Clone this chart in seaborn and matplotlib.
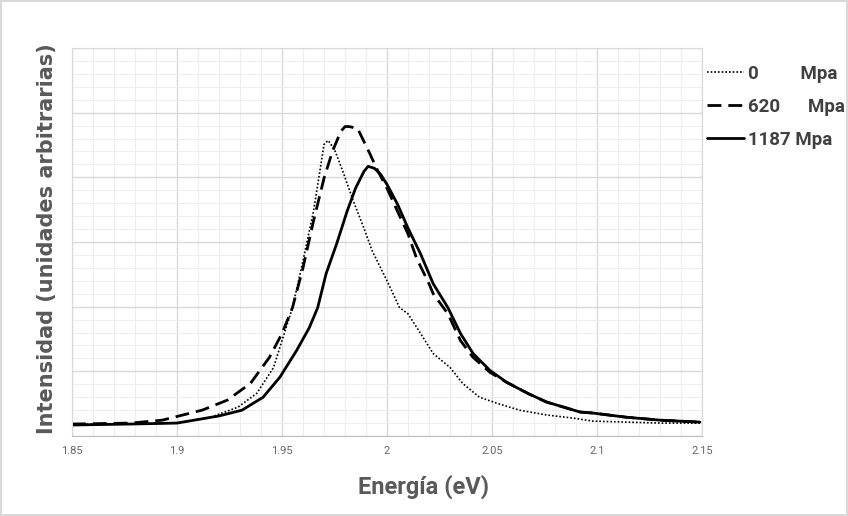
import numpy as np
import pandas as pd
import matplotlib
matplotlib.use("Agg")
import matplotlib.pyplot as plt
from matplotlib.ticker import MultipleLocator, FixedLocator
import seaborn as sns

# values (energy in eV, intensity in arbitrary units)
energy_0 = [1.850, 1.878, 1.900, 1.916, 1.929, 1.938, 1.946, 1.950, 1.955, 1.960,
            1.965, 1.968, 1.970, 1.972, 1.975, 1.979, 1.984, 1.989, 1.993, 2.000,
            2.006, 2.010, 2.016, 2.022, 2.030, 2.036, 2.044, 2.052, 2.063, 2.076,
            2.089, 2.098, 2.114, 2.130, 2.149]
intens_0 = [0.037, 0.037, 0.040, 0.058, 0.089, 0.132, 0.212, 0.295, 0.397, 0.542,
            0.695, 0.818, 0.902, 0.914, 0.886, 0.818, 0.726, 0.643, 0.572, 0.480,
            0.397, 0.378, 0.317, 0.255, 0.212, 0.163, 0.120, 0.102, 0.080, 0.065,
            0.055, 0.046, 0.043, 0.040, 0.040]

energy_620 = [1.850, 1.878, 1.893, 1.912, 1.924, 1.935, 1.944, 1.950, 1.955, 1.960,
              1.965, 1.970, 1.974, 1.978, 1.980, 1.982, 1.986, 1.989, 1.992, 1.995,
              2.000, 2.005, 2.010, 2.014, 2.020, 2.022, 2.029, 2.035, 2.041, 2.049,
              2.057, 2.067, 2.076, 2.092, 2.098, 2.114, 2.130, 2.149]
intens_620 = [0.037, 0.040, 0.049, 0.080, 0.111, 0.163, 0.243, 0.317, 0.397, 0.520,
              0.665, 0.797, 0.880, 0.942, 0.957, 0.957, 0.951, 0.911, 0.871, 0.828,
              0.766, 0.695, 0.625, 0.551, 0.471, 0.440, 0.378, 0.295, 0.243, 0.197,
              0.166, 0.132, 0.105, 0.074, 0.071, 0.058, 0.049, 0.043]

energy_1187 = [1.850, 1.878, 1.900, 1.920, 1.931, 1.941, 1.949, 1.957, 1.963, 1.967,
               1.971, 1.976, 1.981, 1.985, 1.989, 1.991, 1.994, 1.997, 2.000, 2.005,
               2.010, 2.016, 2.022, 2.029, 2.035, 2.041, 2.049, 2.057, 2.067, 2.076,
               2.092, 2.098, 2.114, 2.130, 2.149]
intens_1187 = [0.034, 0.037, 0.040, 0.062, 0.080, 0.120, 0.182, 0.265, 0.335, 0.397,
               0.502, 0.594, 0.695, 0.766, 0.818, 0.834, 0.828, 0.809, 0.778, 0.717,
               0.643, 0.563, 0.471, 0.397, 0.317, 0.255, 0.203, 0.166, 0.132, 0.105,
               0.074, 0.071, 0.058, 0.049, 0.043]

labels = ["0         Mpa", "620      Mpa", "1187 Mpa"]
x_ticks = [1.85, 1.9, 1.95, 2.0, 2.05, 2.1, 2.15]
x_tick_labels = ["1.85", "1.9", "1.95", "2", "2.05", "2.1", "2.15"]

sns.set_style("white")
plt.rcParams["font.family"] = ["DejaVu Sans"]

fig = plt.figure(figsize=(8.48, 5.16), dpi=100)
fig.patch.set_edgecolor("#d9d9d9")
fig.patch.set_linewidth(1.5)
ax = fig.add_axes([72 / 848, 80 / 516, 630 / 848, 388 / 516])

df0 = pd.DataFrame({"x": energy_0, "y": intens_0})
df1 = pd.DataFrame({"x": energy_620, "y": intens_620})
df2 = pd.DataFrame({"x": energy_1187, "y": intens_1187})

sns.lineplot(data=df0, x="x", y="y", ax=ax, color="black", lw=1.2,
             linestyle=(0, (1, 1.2)), label=labels[0], sort=False)
sns.lineplot(data=df1, x="x", y="y", ax=ax, color="black", lw=2,
             linestyle=(0, (5, 2.5)), label=labels[1], sort=False)
sns.lineplot(data=df2, x="x", y="y", ax=ax, color="black", lw=2,
             label=labels[2], sort=False)

ax.set_xlim(1.85, 2.15)
ax.set_ylim(0, 1.2)
ax.xaxis.set_major_locator(FixedLocator(x_ticks))
ax.set_xticklabels(x_tick_labels)
ax.xaxis.set_minor_locator(MultipleLocator(0.01))
ax.yaxis.set_major_locator(MultipleLocator(0.2))
ax.yaxis.set_minor_locator(MultipleLocator(0.04))
ax.set_yticklabels([])
ax.grid(which="major", color="#d9d9d9", lw=1)
ax.grid(which="minor", color="#eeeeee", lw=0.8)
ax.set_axisbelow(True)
ax.tick_params(which="both", length=0)
ax.tick_params(axis="x", pad=7, labelcolor="#666666")
for lab in ax.get_xticklabels():
    lab.set_family("Roboto")
    lab.set_fontsize(8)
for side in ["top", "right", "left"]:
    ax.spines[side].set_color("#d9d9d9")
ax.spines["bottom"].set_color("#bfbfbf")

ax.set_xlabel("Energía (eV)", fontsize=17, fontweight="bold", color="#595959",
              family="Roboto")
ax.xaxis.label.set_va("center")
ax.xaxis.set_label_coords(352 / 630, -51 / 388)
ax.set_ylabel("Intensidad (unidades arbitrarias)", fontsize=15, fontweight="bold",
              color="#595959")
ax.yaxis.label.set_va("center")
ax.yaxis.set_label_coords(-25 / 630, 197 / 388)

handles, lbls = ax.get_legend_handles_labels()
ax.legend_.remove()
leg = fig.legend(handles, lbls, loc="upper left", bbox_to_anchor=(690 / 848, 1 - 48 / 516),
                 frameon=False, handlelength=2.0, handletextpad=0.22, labelspacing=0.8,
                 prop={"family": "Roboto", "weight": "bold", "size": 13.5})
for t in leg.get_texts():
    t.set_color("#404040")

fig.savefig("out.png", dpi=100)
